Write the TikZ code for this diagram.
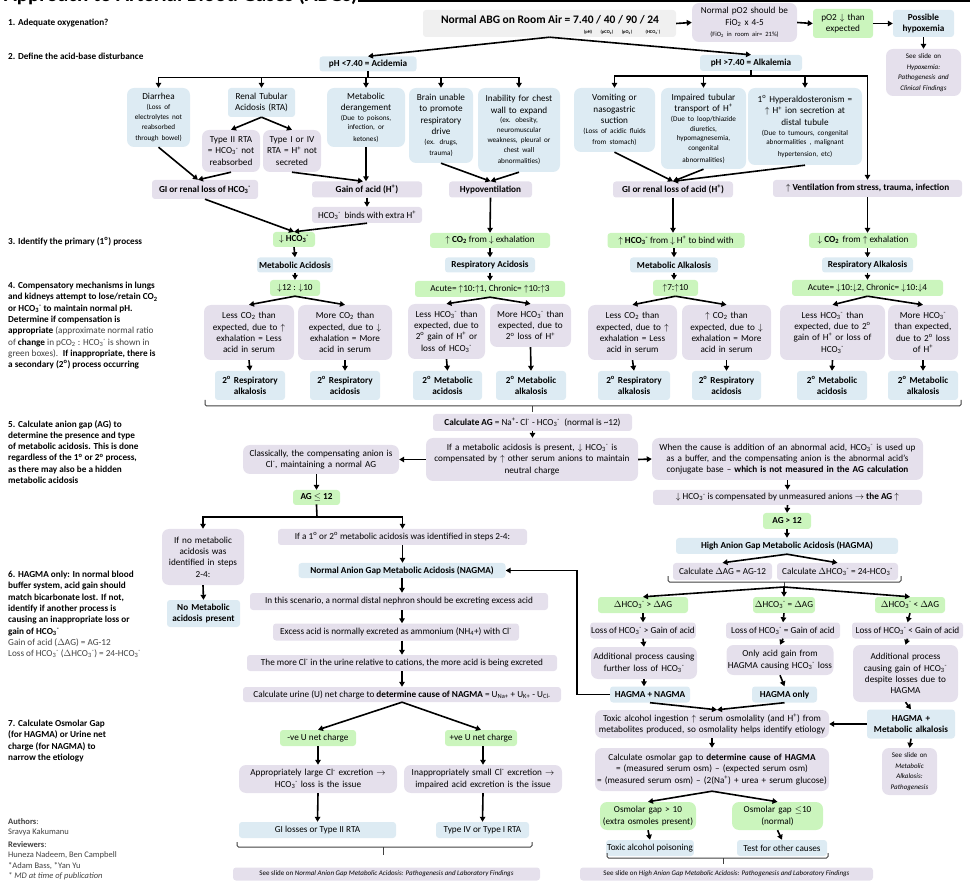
\documentclass[tikz,border=0pt]{standalone}
\usepackage{fontspec}
\setmainfont{Carlito}
\usetikzlibrary{arrows.meta}
\definecolor{Lav}{HTML}{E5E0EC}
\definecolor{Blu}{HTML}{DDEBF3}
\definecolor{Grn}{HTML}{CBF5BD}
\definecolor{Gry}{HTML}{F0F0F0}
\definecolor{Note}{HTML}{404040}
\newcommand\mainsize{\fontsize{9.2}{11.3}\selectfont}
\newcommand\smallsize{\fontsize{7.2}{9.8}\selectfont}
\newcommand\slidesize{\fontsize{7}{10.5}\selectfont}
\newcommand\hcot{HCO\textsubscript{3}\textsuperscript{-}}
\newcommand\cotwo{CO\textsubscript{2}}
\newcommand\hplus{H\textsuperscript{+}}
\newcommand\clm{Cl\textsuperscript{-}}
\newcommand\sdeg{\textsuperscript{o}}
\newcommand\upa{$\uparrow$}
\newcommand\dna{$\downarrow$}
\newcommand\rarr{$\rightarrow$}
\tikzset{
  box/.style={rectangle, rounded corners=3pt, align=center, inner sep=1pt, font=\mainsize},
  lav/.style={box, fill=Lav},
  blu/.style={box, fill=Blu},
  grn/.style={box, fill=Grn},
  gry/.style={box, fill=Gry},
  big/.style={rounded corners=7pt},
  bold/.style={font=\mainsize\bfseries},
  arrow/.style={-{Triangle[length=5pt,width=5.5pt]}, line width=1.6pt},
  link/.style={line width=1.6pt, line cap=rect},
  brace/.style={line width=1pt, draw=black!75, rounded corners=1.5pt},
  steptext/.style={anchor=north west, align=left, inner sep=0pt, font=\mainsize}
}

\begin{document}
\begin{tikzpicture}[x=1pt, y=-1pt]
  \useasboundingbox (0,0) rectangle (970,882);
  \clip (0,0) rectangle (970,882);

  \node[anchor=base west, inner sep=0pt, font=\fontsize{21}{24}\selectfont\bfseries] (title) at (4,2) {Approach to Arterial Blood Gases (ABGs)};
  \draw[line width=2.5pt] (title.east |- 0,1) -- (970,1);

  \node[steptext, font=\mainsize\bfseries] (step1) at (8,19) {1. Adequate oxygenation?};
  \node[steptext, font=\mainsize\bfseries] (step2) at (8,53) {2. Define the acid-base disturbance};
  \node[steptext, font=\mainsize\bfseries] (step3) at (8,237) {3. Identify the primary (1\sdeg) process};
  \node[steptext] (step4) at (8,282) {\textbf{4. Compensatory mechanisms in lungs}\\
    \textbf{and kidneys attempt to lose/retain CO\textsubscript{2}}\\
    \textbf{or \hcot{} to maintain normal pH.}\\
    \textbf{Determine if compensation is}\\
    \textbf{appropriate} {\color{Note}(approximate normal ratio}\\
    {\color{Note}of} \textbf{change} {\color{Note}in pCO\textsubscript{2} : \hcot{} is shown in}\\
    {\color{Note}green boxes).}\enspace\textbf{If inappropriate, there is}\\
    \textbf{a secondary (2\sdeg) process occurring}};
  \node[steptext, font=\mainsize\bfseries] (step5) at (8,420) {5. Calculate anion gap (AG) to\\
    determine the presence and type\\
    of metabolic acidosis. This is done\\
    regardless of the 1\sdeg{} or 2\sdeg{} process,\\
    as there may also be a hidden\\
    metabolic acidosis};
  \node[steptext] (step6) at (8,571) {\textbf{6. HAGMA only: In normal blood}\\
    \textbf{buffer system, acid gain should}\\
    \textbf{match bicarbonate lost. If not,}\\
    \textbf{identify if another process is}\\
    \textbf{causing an inappropriate loss or}\\
    \textbf{gain of \hcot}\\
    {\color{Note}Gain of acid ($\Delta$AG) = AG-12}\\
    {\color{Note}Loss of \hcot{} ($\Delta$\hcot) = 24-\hcot}};
  \node[steptext, font=\mainsize\bfseries] (step7) at (8,720) {7. Calculate Osmolar Gap\\
    (for HAGMA) or Urine net\\
    charge (for NAGMA) to\\
    narrow the etiology};
  \node[steptext, font=\fontsize{8.5}{10.5}\selectfont\color{Note}] (credits) at (8,818) {\textbf{Authors}:\\
    Sravya Kakumanu\\[2pt]
    \textbf{Reviewers}:\\
    Huneza Nadeem, Ben Campbell\\
    *Adam Bass, *Yan Yu\\
    \textit{* MD at time of publication}};

  \node[gry, minimum width=253pt, minimum height=27pt] (abg) at (549.5,23.5) {};
  \node[inner sep=0pt, font=\fontsize{11.5}{13}\selectfont\bfseries] (abgtext) at (550,19.5) {Normal ABG on Room Air = 7.40 / 40 / 90 / 24};
  \node[inner sep=0pt, font=\fontsize{4.5}{5}\selectfont\bfseries] (lblph) at (588,32.5) {(pH)};
  \node[inner sep=0pt, font=\fontsize{4.5}{5}\selectfont\bfseries] (lblpco) at (607,32.5) {(pCO\textsubscript{2})};
  \node[inner sep=0pt, font=\fontsize{4.5}{5}\selectfont\bfseries] (lblpo) at (627,32.5) {(pO\textsubscript{2})};
  \node[inner sep=0pt, font=\fontsize{4.5}{5}\selectfont\bfseries] (lblhco) at (653,32.5) {(\hcot)};
  \node[lav, big, text width=103pt, minimum height=39pt] (po2) at (744.5,22.5) {Normal pO2 should be\\FiO\textsubscript{2} x 4-5\par\fontsize{6.5}{8}\selectfont(FiO\textsubscript{2} in room air= 21\%)};
  \node[grn, text width=58pt, minimum height=29pt] (lowpo2) at (843,23.5) {pO2 \dna{} than\\expected};
  \node[blu, bold, text width=59pt, minimum height=27pt] (hypox) at (923.5,23.5) {Possible\\hypoxemia};
  \node[lav, big, text width=73pt, minimum height=47pt, font=\slidesize] (hypoxslide) at (923.5,72.5) {See slide on\\\textit{Hypoxemia:}\\\textit{Pathogenesis and}\\\textit{Clinical Findings}};

  \node[blu, bold, minimum width=97pt, minimum height=15pt] (acid) at (368,64) {pH <7.40 = Acidemia};
  \node[blu, bold, minimum width=102pt, minimum height=16pt] (alk) at (751,63) {pH >7.40 = Alkalemia};
  \coordinate (acidbus) at (368,77.5);
  \coordinate (alkbus) at (751,76);

  \node[blu, big, text width=61pt, minimum height=59pt] (diarrhea) at (158.5,117.5) {Diarrhea\par\smallsize(Loss of\\electrolytes not\\reabsorbed\\through bowel)};
  \node[blu, text width=65pt, minimum height=29pt] (rta) at (261.5,102.5) {Renal Tubular\\Acidosis (RTA)};
  \node[lav, big, text width=56pt, minimum height=42pt] (typetwo) at (231,151) {Type II RTA\\= \hcot{} not\\reabsorbed};
  \node[lav, big, text width=56pt, minimum height=42pt] (typeone) at (292,151) {Type I or IV\\RTA = \hplus{} not\\secreted};
  \node[blu, big, text width=76pt, minimum height=59pt] (metder) at (366,117.5) {Metabolic\\derangement\par\smallsize(Due to poisons,\\infection, or\\ketones)};
  \node[blu, big, text width=62pt, minimum height=75pt] (brain) at (441,125.5) {Brain unable\\to promote\\respiratory\\drive\par\smallsize(ex. drugs,\\trauma)};
  \node[blu, big, text width=80pt, minimum height=84pt] (chest) at (519,130) {Inability for chest\\wall to expand\par\smallsize(ex. obesity,\\neuromuscular\\weakness, pleural or\\chest wall\\abnormalities)};
  \node[blu, big, text width=79pt, minimum height=64pt] (vomit) at (614.5,120) {Vomiting or\\nasogastric\\suction\par\smallsize(Loss of acidic fluids\\from stomach)};
  \node[blu, big, text width=83pt, minimum height=81pt] (tubular) at (703.5,128.5) {Impaired tubular\\transport of \hplus\par\smallsize(Due to loop/thiazide\\diuretics,\\hypomagnesemia,\\congenital\\abnormalities)};
  \node[blu, big, text width=112pt, minimum height=77pt] (aldo) at (805,126.5) {1\sdeg{} Hyperaldosteronism =\\\upa{} \hplus{} ion secretion at\\distal tubule\par\smallsize(Due to tumours, congenital\\abnormalities , malignant\\hypertension, etc)};

  \node[lav, bold, minimum width=106pt, minimum height=19pt] (gihco) at (205,189.5) {GI or renal loss of \hcot};
  \node[lav, bold, minimum width=110pt, minimum height=16pt] (gainacid) at (367,189.5) {Gain of acid (\hplus)};
  \node[lav, minimum width=110pt, minimum height=16pt] (binds) at (367,215) {\hcot{}\, binds with extra \hplus};
  \node[lav, bold, minimum width=83pt, minimum height=16pt] (hypo) at (490.5,189.5) {Hypoventilation};
  \node[lav, bold, minimum width=120pt, minimum height=16pt] (giacid) at (673,189.5) {GI or renal loss of acid (\hplus)};
  \node[lav, bold, minimum width=189pt, minimum height=17pt] (vent) at (867.5,188.5) {\upa{} Ventilation from stress, trauma, infection};

  \node[grn, bold, minimum width=42pt, minimum height=15pt] (dnhco) at (294,239.5) {\dna{} \hcot};
  \node[grn, minimum width=120pt, minimum height=15pt] (upco) at (490,240.5) {\upa{} \textbf{\cotwo} from \dna{} exhalation};
  \node[grn, minimum width=137pt, minimum height=15pt] (uphco) at (676,240.5) {\upa{} \textbf{\hcot} from \dna{} \hplus{} to bind with};
  \node[grn, minimum width=108pt, minimum height=15pt] (dnco) at (863,240.5) {\dna{} \textbf{\cotwo}\, from \upa{} exhalation};

  \node[blu, bold, minimum width=76pt, minimum height=15pt] (metacid) at (295,265) {Metabolic Acidosis};
  \node[blu, bold, minimum width=90pt, minimum height=15pt] (respacid) at (490,265) {Respiratory Acidosis};
  \node[blu, bold, minimum width=88pt, minimum height=15pt] (metalk) at (674,265) {Metabolic Alkalosis};
  \node[blu, bold, minimum width=91pt, minimum height=15pt] (respalk) at (867.5,265) {Respiratory Alkalosis};

  \node[grn, minimum width=50pt, minimum height=16pt] (ratioma) at (295,288) {\dna12 : \dna10};
  \node[grn, minimum width=150pt, minimum height=16pt] (ratiora) at (490,289) {Acute= \upa10:\upa1, Chronic= \upa10:\upa3};
  \node[grn, minimum width=45pt, minimum height=16pt] (ratiomk) at (675.5,288) {\upa7:\upa10};
  \node[grn, minimum width=151pt, minimum height=16pt] (ratiork) at (867.5,288) {Acute= \dna10:\dna2, Chronic= \dna10:\dna4};

  \node[lav, big, text width=88pt, minimum height=55pt] (cmpa) at (249,332.5) {Less \cotwo{} than\\expected, due to \upa\\exhalation = Less\\acid in serum};
  \node[lav, big, text width=92pt, minimum height=55pt] (cmpb) at (345,332.5) {More \cotwo{} than\\expected, due to \dna\\exhalation = More\\acid in serum};
  \node[lav, big, text width=75pt, minimum height=55pt] (cmpc) at (446.5,331.5) {Less \hcot{} than\\expected, due to\\2\sdeg{} gain of \hplus{} or\\loss of \hcot};
  \node[lav, big, text width=79pt, minimum height=43pt] (cmpd) at (530.5,325.5) {More \hcot{} than\\expected, due to\\2\sdeg{} loss of \hplus};
  \node[lav, big, text width=87pt, minimum height=55pt] (cmpe) at (632.5,332.5) {Less \cotwo{} than\\expected, due to \upa\\exhalation = Less\\acid in serum};
  \node[lav, big, text width=87pt, minimum height=55pt] (cmpf) at (726.5,332.5) {\upa{} \cotwo{} than\\expected, due to \dna\\exhalation = More\\acid in serum};
  \node[lav, big, text width=103pt, minimum height=55pt] (cmpg) at (832.5,332.5) {Less \hcot{} than\\expected, due to 2\sdeg\\gain of \hplus{} or loss of\\\hcot};
  \node[lav, big, text width=68pt, minimum height=55pt] (cmph) at (923,332.5) {More \hcot\\than expected,\\due to 2\sdeg{} loss\\of \hplus};

  \node[blu, bold, text width=68pt, minimum height=29pt] (seca) at (250,385.5) {2\sdeg{} Respiratory\\alkalosis};
  \node[blu, bold, text width=68pt, minimum height=29pt] (secb) at (345,385.5) {2\sdeg{} Respiratory\\acidosis};
  \node[blu, bold, text width=67pt, minimum height=29pt] (secc) at (447.5,385.5) {2\sdeg{} Metabolic\\acidosis};
  \node[blu, bold, text width=68pt, minimum height=29pt] (secd) at (531,385.5) {2\sdeg{} Metabolic\\alkalosis};
  \node[blu, bold, text width=70pt, minimum height=29pt] (sece) at (634,385.5) {2\sdeg{} Respiratory\\alkalosis};
  \node[blu, bold, text width=67pt, minimum height=29pt] (secf) at (726.5,385.5) {2\sdeg{} Respiratory\\acidosis};
  \node[blu, bold, text width=68pt, minimum height=29pt] (secg) at (832,385.5) {2\sdeg{} Metabolic\\acidosis};
  \node[blu, bold, text width=68pt, minimum height=29pt] (sech) at (923,385.5) {2\sdeg{} Metabolic\\alkalosis};

  \node[lav, minimum width=199pt, minimum height=17pt] (calcag) at (532.5,422.5) {\textbf{Calculate AG} = Na\textsuperscript{+}- \clm{} - \hcot\enspace(normal is \textasciitilde12)};
  \node[lav, big, text width=210pt, minimum height=43pt] (ifmet) at (532,459.5) {If a metabolic acidosis is present, \dna{} \hcot{} is\\compensated by \upa{} other serum anions to maintain\\neutral charge};
  \node[lav, big, text width=154pt, minimum height=29pt] (classic) at (321,459.5) {Classically, the compensating anion is\\\clm, maintaining a normal AG};
  \node[lav, big, text width=269pt, minimum height=42pt] (abnormal) at (787.5,459) {When the cause is addition of an abnormal acid, \hcot{} is used up\\as a buffer, and the compensating anion is the abnormal acid's\\conjugate base -- \textbf{which is not measured in the AG calculation}};
  \node[lav, minimum width=269pt, minimum height=15pt] (unmeas) at (787.5,497.5) {\dna{} \hcot{} is compensated by unmeasured anions \rarr{} \textbf{the AG \upa}};
  \node[grn, bold, minimum width=48pt, minimum height=16pt] (aghigh) at (787,521) {AG > 12};
  \node[blu, bold, minimum width=222pt, minimum height=16pt] (hagma) at (787,546) {High Anion Gap Metabolic Acidosis (HAGMA)};
  \node[lav, minimum width=99pt, minimum height=17pt] (dag) at (722.5,571.5) {Calculate $\Delta$AG = AG-12};
  \node[lav, minimum width=121pt, minimum height=17pt] (dhco) at (837.5,571.5) {Calculate $\Delta$\hcot{} = 24-\hcot};
  \coordinate (deltafan) at (784,587);

  \node[grn, minimum width=90pt, minimum height=16pt] (gta) at (643,605) {$\Delta$\hcot{} > $\Delta$AG};
  \node[grn, minimum width=62pt, minimum height=16pt] (gtb) at (784,605) {$\Delta$\hcot{} = $\Delta$AG};
  \node[grn, minimum width=70pt, minimum height=16pt] (gtc) at (910,605) {$\Delta$\hcot{} < $\Delta$AG};
  \node[lav, minimum width=96pt, minimum height=16pt] (lossa) at (643,630.5) {Loss of \hcot{} > Gain of acid};
  \node[lav, minimum width=114pt, minimum height=16pt] (lossb) at (783,630.5) {Loss of \hcot{} = Gain of acid};
  \node[lav, minimum width=111pt, minimum height=16pt] (lossc) at (907.5,630.5) {Loss of \hcot{} < Gain of acid};
  \node[lav, big, text width=104pt, minimum height=32pt] (adda) at (644,663) {Additional process causing\\further loss of \hcot};
  \node[lav, big, text width=105pt, minimum height=30pt] (onlyb) at (780,660) {Only acid gain from\\HAGMA causing \hcot{} loss};
  \node[lav, big, text width=103pt, minimum height=57pt] (addc) at (905.5,673.5) {Additional process\\causing gain of \hcot\\despite losses due to\\HAGMA};
  \node[blu, bold, minimum width=80pt, minimum height=16pt] (hnagma) at (650,694.5) {HAGMA + NAGMA};
  \node[blu, bold, minimum width=65pt, minimum height=16pt] (honly) at (784.5,694.5) {HAGMA only};
  \node[blu, bold, text width=86pt, minimum height=29pt] (hmalk) at (911,724) {HAGMA +\\Metabolic alkalosis};
  \node[lav, big, text width=53pt, minimum height=47pt, font=\slidesize] (malkslide) at (909.5,771.5) {See slide on\\\textit{Metabolic}\\\textit{Alkalosis:}\\\textit{Pathogenesis}};
  \node[lav, big, text width=232pt, minimum height=28pt] (toxic) at (712,724) {Toxic alcohol ingestion \upa{} serum osmolality (and \hplus) from\\metabolites produced, so osmolality helps identify etiology};
  \node[lav, big, text width=232pt, minimum height=43pt] (osmgap) at (712,769.5) {Calculate osmolar gap to \textbf{determine cause of HAGMA}\\= (measured serum osm) -- (expected serum osm)\\= (measured serum osm) -- (2(Na\textsuperscript{+}) + urea + serum glucose)};
  \node[grn, big, text width=94pt, minimum height=28pt] (osmhi) at (648,816) {Osmolar gap > 10\\(extra osmoles present)};
  \node[grn, big, text width=89pt, minimum height=28pt] (osmlo) at (777.5,816) {Osmolar gap $\leq$10\\(normal)};
  \node[blu, minimum width=80pt, minimum height=16pt] (toxpois) at (650,848) {Toxic alcohol poisoning};
  \node[blu, minimum width=90pt, minimum height=16pt] (others) at (782,848) {Test for other causes};
  \node[lav, minimum width=293pt, minimum height=13pt, font=\slidesize] (hagmaslide) at (726.5,874) {See slide on \textit{High Anion Gap Metabolic Acidosis: Pathogenesis and Laboratory Findings}};

  \node[grn, bold, minimum width=47pt, minimum height=15pt] (aglow) at (316.5,497.5) {AG $\leq$ 12};
  \coordinate (lowbus) at (317,517);
  \node[lav, big, text width=80pt, minimum height=56pt] (nomet) at (203,557) {If no metabolic\\acidosis was\\identified in steps\\2-4:};
  \node[blu, bold, text width=71pt, minimum height=27pt] (nonemet) at (203.5,613.5) {No Metabolic\\acidosis present};
  \node[lav, minimum width=249pt, minimum height=16pt] (ifone) at (402.5,537) {If a 1\sdeg{} or 2\sdeg{} metabolic acidosis was identified in steps 2-4:};
  \node[blu, bold, minimum width=207pt, minimum height=15pt] (nagma) at (402,570.5) {Normal Anion Gap Metabolic Acidosis (NAGMA)};
  \node[lav, minimum width=298pt, minimum height=17pt] (distal) at (399,601.5) {In this scenario, a normal distal nephron should be excreting excess acid};
  \node[lav, minimum width=246pt, minimum height=17pt] (ammon) at (396,632) {Excess acid is normally excreted as ammonium (NH\textsubscript{4}+) with \clm};
  \node[lav, minimum width=310pt, minimum height=16pt] (morecl) at (402,663) {The more \clm{} in the urine relative to cations, the more acid is being excreted};
  \node[lav, minimum width=318pt, minimum height=15pt] (urine) at (402,694.5) {Calculate urine (U) net charge to \textbf{determine cause of NAGMA} = U\textsubscript{Na+} + U\textsubscript{K+} - U\textsubscript{Cl-}};
  \node[grn, minimum width=76pt, minimum height=16pt] (negu) at (318,738) {-ve U net charge};
  \node[grn, minimum width=72pt, minimum height=16pt] (posu) at (481,738) {+ve U net charge};
  \node[lav, big, text width=156pt, minimum height=28pt] (approp) at (318,779) {Appropriately large \clm{} excretion \rarr\\\hcot{} loss is the issue};
  \node[lav, big, text width=156pt, minimum height=28pt] (inapprop) at (483,779) {Inappropriately small \clm{} excretion \rarr\\impaired acid excretion is the issue};
  \node[blu, minimum width=157pt, minimum height=16pt] (gilosses) at (317.5,830) {GI losses or Type II RTA};
  \node[blu, minimum width=93pt, minimum height=16pt] (typefour) at (482.5,830) {Type IV or Type I RTA};
  \node[lav, minimum width=307pt, minimum height=13pt, font=\slidesize] (nagmaslide) at (386.5,874) {See slide on \textit{Normal Anion Gap Metabolic Acidosis: Pathogenesis and Laboratory Findings}};

  \draw[arrow] (abg.east) -- (po2.west);
  \draw[arrow] (po2.east) -- (lowpo2.west);
  \draw[arrow] (lowpo2.east) -- (hypox.west);
  \draw[arrow] (hypox.south) -- (hypoxslide.north);
  \draw[arrow] (abg.south) -- (acid.north);
  \draw[arrow] (abg.south) -- (alk.north);

  \draw[link] (acid.south) -- (acidbus);
  \draw[link] (diarrhea.north |- acidbus) -- (chest.north |- acidbus);
  \draw[arrow] (diarrhea.north |- acidbus) -- (diarrhea.north);
  \draw[arrow] (rta.north |- acidbus) -- (rta.north);
  \draw[arrow] (metder.north |- acidbus) -- (metder.north);
  \draw[arrow] (brain.north |- acidbus) -- (brain.north);
  \draw[arrow] (chest.north |- acidbus) -- (chest.north);
  \draw[link] (alk.south) -- (alkbus);
  \draw[link] (vomit.north |- alkbus) -- (vent.north |- alkbus);
  \draw[arrow] (vomit.north |- alkbus) -- (vomit.north);
  \draw[arrow] (tubular.north |- alkbus) -- (tubular.north);
  \draw[arrow] (aldo.north |- alkbus) -- (aldo.north);
  \draw[arrow] (vent.north |- alkbus) -- (vent.north);

  \draw[arrow] (rta.south) -- (typetwo.north);
  \draw[arrow] (rta.south) -- (typeone.north);
  \draw[arrow] (diarrhea.south) -- ([xshift=-7pt]gihco.north);
  \draw[arrow] (typetwo.south) -- ([xshift=-7pt]gihco.north);
  \draw[arrow] (typeone.south) -- ([xshift=-4pt]gainacid.north);
  \draw[arrow] (metder.south) -- (metder.south |- gainacid.north);
  \draw[arrow] (gainacid.south) -- (binds.north);
  \draw[arrow] (brain.south) -- (hypo.north);
  \draw[arrow] (chest.south) -- (hypo.north);
  \draw[arrow] (vomit.south) -- (giacid.north);
  \draw[arrow] (tubular.south) -- (giacid.north);
  \draw[arrow] (aldo.south) -- (giacid.north);

  \draw[arrow] (gihco.south) -- (dnhco.north);
  \draw[arrow] (binds.south) -- (dnhco.north);
  \draw[arrow] (hypo.south) -- (upco.north);
  \draw[arrow] (giacid.south) -- (giacid.south |- uphco.north);
  \draw[arrow] (vent.south) -- (vent.south |- dnco.north);
  \draw[arrow] (dnhco.south) -- (metacid.north);
  \draw[arrow] (upco.south) -- (respacid.north);
  \draw[arrow] (uphco.south -| metalk) -- (metalk.north);
  \draw[arrow] (dnco.south -| respalk) -- (respalk.north);
  \draw[arrow] (metacid.south) -- (ratioma.north);
  \draw[arrow] (respacid.south) -- (ratiora.north);
  \draw[arrow] (metalk.south) -- (metalk.south |- ratiomk.north);
  \draw[arrow] (respalk.south) -- (ratiork.north);

  \draw[arrow] (ratioma.south) -- (cmpa.north);
  \draw[arrow] (ratioma.south) -- (cmpb.north);
  \draw[arrow] (ratiora.south) -- (cmpc.north);
  \draw[arrow] (ratiora.south) -- (cmpd.north);
  \draw[arrow] (ratiomk.south) -- (cmpe.north);
  \draw[arrow] (ratiomk.south) -- (cmpf.north);
  \draw[arrow] (ratiork.south) -- (cmpg.north);
  \draw[arrow] (ratiork.south) -- (cmph.north);
  \draw[arrow] (cmpa.south) -- (seca.north);
  \draw[arrow] (cmpb.south) -- (secb.north);
  \draw[arrow] (cmpc.south) -- (secc.north);
  \draw[arrow] (cmpd.south) -- (secd.north);
  \draw[arrow] (cmpe.south) -- (sece.north);
  \draw[arrow] (cmpf.south) -- (secf.north);
  \draw[arrow] (cmpg.south) -- (secg.north);
  \draw[arrow] (cmph.south) -- (sech.north);

  \draw[brace] (205,400) -- (205,406) -- (961,406) -- (961,400);
  \draw[brace] (calcag.north |- 0,406) -- ++(0,6);
  \draw[arrow] (calcag.south) -- (calcag.south |- ifmet.north);
  \draw[arrow] (ifmet.west) -- (classic.east);
  \draw[arrow] (ifmet.east) -- (abnormal.west);
  \draw[arrow] (classic.south -| aglow) -- (aglow.north);
  \draw[arrow] (abnormal.south) -- (unmeas.north);
  \draw[arrow] (unmeas.south) -- (aghigh.north);
  \draw[arrow] (aghigh.south) -- (hagma.north);
  \draw[arrow] (hagma.south) -- (dag.north);
  \draw[arrow] (hagma.south) -- (dhco.north);
  \draw[brace] (668,576) -- (668,582) -- (901,582) -- (901,576);
  \draw[brace] (deltafan |- 0,582) -- (deltafan);
  \draw[arrow] (deltafan) -- (gta.north);
  \draw[arrow] (deltafan) -- (gtb.north);
  \draw[arrow] (deltafan) -- (gtc.north);
  \draw[arrow] (gta.south) -- (lossa.north);
  \draw[arrow] (gtb.south) -- (lossb.north);
  \draw[arrow] (gtc.south) -- (lossc.north);
  \draw[arrow] (lossa.south) -- (adda.north);
  \draw[arrow] (lossb.south) -- (onlyb.north);
  \draw[arrow] (lossc.south) -- (addc.north);
  \draw[arrow] (adda.south) -- (adda.south |- hnagma.north);
  \draw[arrow] (onlyb.south) -- (honly.north);
  \draw[arrow] (addc.south) -- (hmalk.north);
  \draw[arrow] (hmalk.south) -- (malkslide.north);
  \draw[arrow] (hnagma.west) -- ++(-33,0) |- (nagma.east);
  \draw[arrow] (hnagma.south) -- ([xshift=5pt]toxic.north);
  \draw[arrow] (honly.south) -- ([xshift=5pt]toxic.north);
  \draw[arrow] (hmalk.west) -- (toxic.east);
  \draw[arrow] (toxic.south) -- (osmgap.north);
  \draw[arrow] (osmgap.south) -- (osmhi.north);
  \draw[arrow] (osmgap.south) -- (osmlo.north);
  \draw[arrow] (osmhi.south) -- (toxpois.north);
  \draw[arrow] (osmlo.south) -- (others.north);
  \draw[brace] (607,853) -- (607,858) -- (828,858) -- (828,853);
  \draw[brace] (723,858) -- (723,864);

  \draw[link] (aglow.south) -- (lowbus);
  \draw[link] (nomet.north |- lowbus) -- (ifone.north |- lowbus);
  \draw[arrow] (nomet.north |- lowbus) -- (nomet.north);
  \draw[arrow] (ifone.north |- lowbus) -- (ifone.north);
  \draw[arrow] (nomet.south) -- (nonemet.north);
  \draw[arrow] (ifone.south) -- (ifone.south |- nagma.north);
  \draw[arrow] (nagma.south) -- (nagma.south |- distal.north);
  \draw[arrow] (nagma.south |- distal.south) -- (nagma.south |- ammon.north);
  \draw[arrow] (nagma.south |- ammon.south) -- (nagma.south |- morecl.north);
  \draw[arrow] (morecl.south) -- (urine.north);
  \draw[arrow] (urine.south) -- (negu.north);
  \draw[arrow] (urine.south) -- (posu.north);
  \draw[arrow] (negu.south) -- (approp.north);
  \draw[arrow] (posu.south -| inapprop) -- (inapprop.north);
  \draw[arrow] (approp.south) -- (gilosses.north);
  \draw[arrow] (inapprop.south) -- (typefour.north);
  \draw[brace] (237,842) -- (237,847) -- (532,847) -- (532,842);
  \draw[brace] (383,847) -- (383,855);
\end{tikzpicture}
\end{document}
